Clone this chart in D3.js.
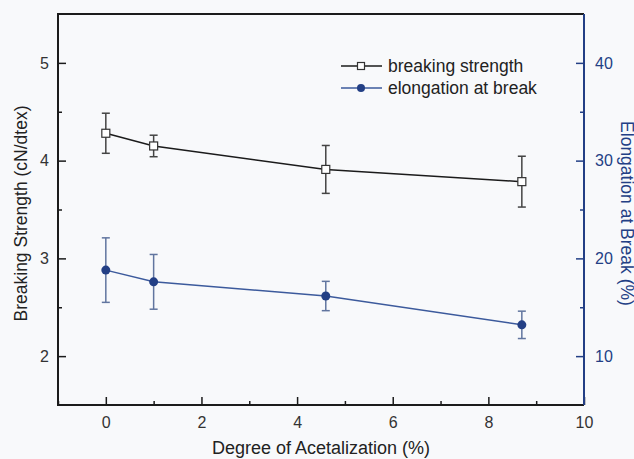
<!DOCTYPE html>
<html>
<head>
<meta charset="utf-8">
<script src="https://cdn.jsdelivr.net/npm/d3@7"></script>
<style>
  html, body { margin: 0; padding: 0; background: #f8f9fb; }
  svg { display: block; font-family: "Liberation Sans", Arial, sans-serif; }
</style>
</head>
<body>
<div id="chart"></div>
<script>
// values
const degree = [0, 1, 4.6, 8.7];
const strength = [4.28, 4.15, 3.91, 3.785];
const strengthErr = [0.205, 0.11, 0.245, 0.26];
const elongation = [18.8, 17.6, 16.15, 13.2];
const elongationErr = [3.3, 2.8, 1.5, 1.4];

const xTicks = [0, 2, 4, 6, 8, 10];
const xMinor = [-1, 1, 3, 5, 7, 9];
const leftTicks = [2, 3, 4, 5];
const leftMinor = [2.5, 3.5, 4.5];
const rightTicks = [10, 20, 30, 40];
const rightMinor = [15, 25, 35];

const legendLabels = ["breaking strength", "elongation at break"];

function drawChart() {
  const width = 634, height = 459;
  const margin = { top: 14, right: 50, bottom: 54, left: 58 };
  const chartWidth = width - margin.left - margin.right;
  const chartHeight = height - margin.top - margin.bottom;

  const black = "#1b1b1b";
  const navy = "#233f85";
  const blueLine = "#3c5a9c";
  const blueErr = "#61759f";

  const svg = d3.select("#chart").append("svg")
    .attr("width", width)
    .attr("height", height);

  svg.append("rect")
    .attr("width", width)
    .attr("height", height)
    .attr("fill", "#f8f9fb");

  const g = svg.append("g")
    .attr("transform", `translate(${margin.left},${margin.top})`);

  const x = d3.scaleLinear().domain([-1, 10]).range([0, chartWidth]);
  const yL = d3.scaleLinear().domain([1.5, 5.5]).range([chartHeight, 0]);
  const yR = d3.scaleLinear().domain([5, 45]).range([chartHeight, 0]);

  // axes with inward ticks
  function styleAxis(sel, color, textColor) {
    sel.select(".domain").remove();
    sel.selectAll("line").attr("stroke", color).attr("stroke-width", 1.5);
    sel.selectAll("text").attr("fill", textColor || "#333").style("font-size", "16px");
  }

  const xAxis = g.append("g")
    .attr("transform", `translate(0,${chartHeight})`)
    .call(d3.axisBottom(x).tickValues(xTicks).tickSize(-8).tickPadding(12).tickFormat(d3.format("d")));
  styleAxis(xAxis, black);
  g.append("g")
    .attr("transform", `translate(0,${chartHeight})`)
    .call(d3.axisBottom(x).tickValues(xMinor).tickSize(-4).tickFormat(""))
    .call(s => styleAxis(s, black));

  const leftAxis = g.append("g")
    .call(d3.axisLeft(yL).tickValues(leftTicks).tickSize(-8).tickPadding(9).tickFormat(d3.format("d")));
  styleAxis(leftAxis, black);
  g.append("g")
    .call(d3.axisLeft(yL).tickValues(leftMinor).tickSize(-4).tickFormat(""))
    .call(s => styleAxis(s, black));

  const rightAxis = g.append("g")
    .attr("transform", `translate(${chartWidth},0)`)
    .call(d3.axisRight(yR).tickValues(rightTicks).tickSize(-8).tickPadding(11).tickFormat(d3.format("d")));
  styleAxis(rightAxis, navy, navy);
  g.append("g")
    .attr("transform", `translate(${chartWidth},0)`)
    .call(d3.axisRight(yR).tickValues(rightMinor).tickSize(-4).tickFormat(""))
    .call(s => styleAxis(s, navy));

  // frame
  g.append("path")
    .attr("d", `M${chartWidth},0H0V${chartHeight}H${chartWidth}`)
    .attr("fill", "none").attr("stroke", black).attr("stroke-width", 2);
  g.append("line")
    .attr("x1", chartWidth).attr("x2", chartWidth)
    .attr("y1", 0).attr("y2", chartHeight)
    .attr("stroke", navy).attr("stroke-width", 2);

  // axis titles
  svg.append("text")
    .attr("transform", `translate(21,${margin.top + chartHeight / 2 + 4}) rotate(-90)`)
    .attr("text-anchor", "middle")
    .attr("dominant-baseline", "central")
    .attr("fill", "#222")
    .style("font-size", "17.5px")
    .text("Breaking Strength (cN/dtex)");

  svg.append("text")
    .attr("transform", `translate(627,${margin.top + chartHeight / 2 + 4}) rotate(90)`)
    .attr("text-anchor", "middle")
    .attr("dominant-baseline", "central")
    .attr("fill", navy)
    .style("font-size", "17.5px")
    .text("Elongation at Break (%)");

  svg.append("text")
    .attr("x", margin.left + x(4.5))
    .attr("y", 454)
    .attr("text-anchor", "middle")
    .attr("fill", "#222")
    .style("font-size", "18px")
    .text("Degree of Acetalization (%)");

  // error bars
  function errorBars(vals, errs, y, color) {
    const eg = g.append("g").attr("stroke", color).attr("stroke-width", 1.5);
    degree.forEach((d, i) => {
      const cx = x(d);
      const top = y(vals[i] + errs[i]);
      const bot = y(vals[i] - errs[i]);
      eg.append("line").attr("x1", cx).attr("x2", cx).attr("y1", top).attr("y2", bot);
      eg.append("line").attr("x1", cx - 4).attr("x2", cx + 4).attr("y1", top).attr("y2", top);
      eg.append("line").attr("x1", cx - 4).attr("x2", cx + 4).attr("y1", bot).attr("y2", bot);
    });
  }
  errorBars(strength, strengthErr, yL, "#444");
  errorBars(elongation, elongationErr, yR, blueErr);

  // lines
  g.append("path")
    .datum(degree.map((d, i) => [d, strength[i]]))
    .attr("fill", "none").attr("stroke", black).attr("stroke-width", 1.5)
    .attr("d", d3.line().x(d => x(d[0])).y(d => yL(d[1])));

  g.append("path")
    .datum(degree.map((d, i) => [d, elongation[i]]))
    .attr("fill", "none").attr("stroke", blueLine).attr("stroke-width", 1.5)
    .attr("d", d3.line().x(d => x(d[0])).y(d => yR(d[1])));

  // markers
  g.selectAll(".sq")
    .data(degree)
    .enter().append("rect")
    .attr("x", (d) => x(d) - 4)
    .attr("y", (d, i) => yL(strength[i]) - 4)
    .attr("width", 8).attr("height", 8)
    .attr("fill", "#fff").attr("stroke", "#333").attr("stroke-width", 1.2);

  g.selectAll(".dot")
    .data(degree)
    .enter().append("circle")
    .attr("cx", d => x(d))
    .attr("cy", (d, i) => yR(elongation[i]))
    .attr("r", 4.5)
    .attr("fill", navy);

  // legend
  const lg = svg.append("g").attr("transform", "translate(341,66)");
  [0, 1].forEach(i => {
    const row = lg.append("g").attr("transform", `translate(0,${i * 22})`);
    const c = i === 0 ? black : blueLine;
    row.append("line").attr("x1", 0).attr("x2", 41).attr("y1", 0).attr("y2", 0)
      .attr("stroke", c).attr("stroke-width", 1.5);
    if (i === 0) {
      row.append("rect").attr("x", 16.5).attr("y", -3.5).attr("width", 7).attr("height", 7)
        .attr("fill", "#fff").attr("stroke", "#333").attr("stroke-width", 1.2);
    } else {
      row.append("circle").attr("cx", 20).attr("cy", 0).attr("r", 4).attr("fill", navy);
    }
    row.append("text")
      .attr("x", 47).attr("y", 0)
      .attr("dominant-baseline", "central")
      .attr("fill", "#222")
      .style("font-size", "17.5px")
      .text(legendLabels[i]);
  });
}

drawChart();
</script>
</body>
</html>
